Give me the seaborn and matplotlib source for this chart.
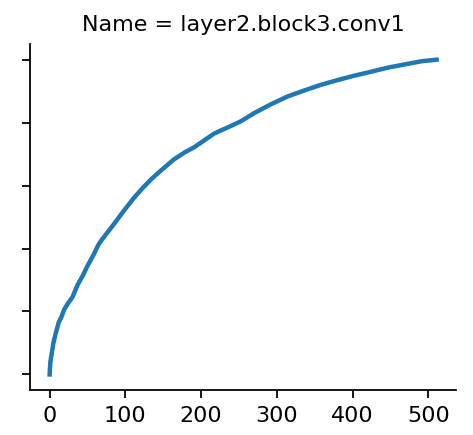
import numpy as np
import pandas as pd
import matplotlib
matplotlib.use("Agg")
import matplotlib.pyplot as plt
import seaborn as sns

# values (cumulative share, 0..1)
channel = [0, 1, 3, 5, 8, 12, 16, 19, 24, 30, 37, 44, 50, 58, 64, 68, 76, 85,
           98, 111, 122, 134, 148, 164, 178, 191, 205, 217, 226, 240, 253, 270,
           292, 314, 336, 358, 380, 402, 425, 447, 469, 491, 511]
share = [0.0, 0.04, 0.07, 0.10, 0.13, 0.165, 0.185, 0.205, 0.225, 0.245,
         0.285, 0.315, 0.345, 0.38, 0.41, 0.425, 0.45, 0.478, 0.52, 0.56,
         0.59, 0.62, 0.65, 0.683, 0.705, 0.722, 0.745, 0.765, 0.775, 0.79,
         0.805, 0.83, 0.858, 0.883, 0.902, 0.92, 0.935, 0.949, 0.962, 0.975,
         0.985, 0.995, 1.0]
name = "layer2.block3.conv1"

df = pd.DataFrame({"channel": channel, "share": share, "Name": name})

dpi = 160
g = sns.relplot(data=df, x="channel", y="share", col="Name", kind="line",
                linewidth=2.0)
g.figure.set_size_inches(473 / dpi, 435 / dpi)
g.set_axis_labels("", "")
ax = g.axes[0, 0]
ax.set_yticks([0, 0.2, 0.4, 0.6, 0.8, 1.0])
ax.set_yticklabels([])
ax.set_xticks([0, 100, 200, 300, 400, 500])
g.figure.subplots_adjust(left=0.064, right=0.964, top=0.899, bottom=0.103)
g.figure.savefig("out.png", dpi=dpi)
